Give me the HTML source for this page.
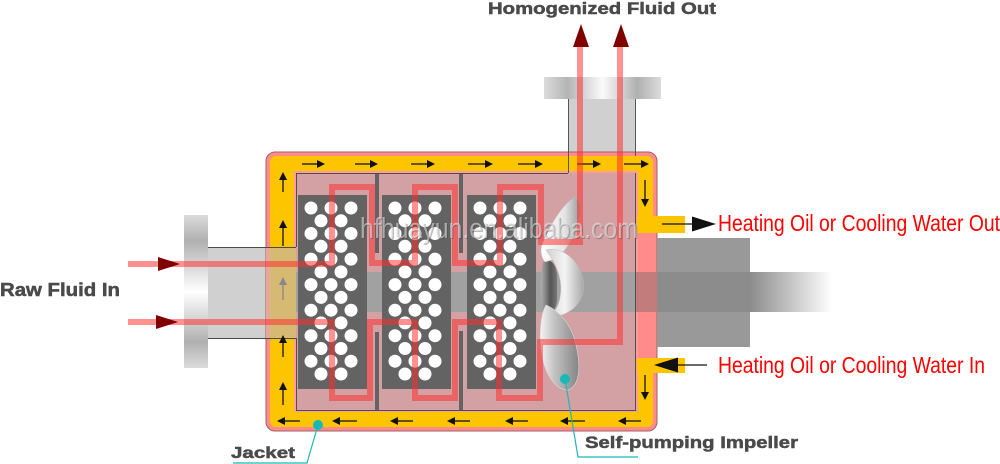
<!DOCTYPE html>
<html><head><meta charset="utf-8"><style>
html,body{margin:0;padding:0;background:#fff;}
svg{display:block;}
</style></head><body>
<svg width="1000" height="464" viewBox="0 0 1000 464" xmlns="http://www.w3.org/2000/svg">
<defs>
<linearGradient id="flV" x1="0" y1="0" x2="0" y2="1">
<stop offset="0" stop-color="#dcdcdc"/><stop offset="0.17" stop-color="#b0b0b0"/><stop offset="0.5" stop-color="#ffffff"/><stop offset="0.83" stop-color="#b0b0b0"/><stop offset="1" stop-color="#dcdcdc"/>
</linearGradient>
<linearGradient id="flH" x1="0" y1="0" x2="1" y2="0">
<stop offset="0" stop-color="#dcdcdc"/><stop offset="0.2" stop-color="#b4b4b4"/><stop offset="0.5" stop-color="#fafafa"/><stop offset="0.8" stop-color="#b0b0b0"/><stop offset="1" stop-color="#dcdcdc"/>
</linearGradient>
<linearGradient id="fade" x1="0" y1="0" x2="1" y2="0">
<stop offset="0" stop-color="#8c8c8c"/><stop offset="1" stop-color="#8c8c8c" stop-opacity="0"/>
</linearGradient>
<linearGradient id="bl1" x1="0" y1="0" x2="1" y2="0">
<stop offset="0" stop-color="#ffffff"/><stop offset="0.6" stop-color="#e4e4e4"/><stop offset="1" stop-color="#9a9a9a"/>
</linearGradient>
<linearGradient id="bl2" x1="0" y1="0" x2="1" y2="0">
<stop offset="0" stop-color="#f4f4f4"/><stop offset="0.35" stop-color="#c4c4c4"/><stop offset="1" stop-color="#858585"/>
</linearGradient>
<linearGradient id="tw" x1="0" y1="0" x2="1" y2="0">
<stop offset="0" stop-color="#cfcfcf"/><stop offset="0.5" stop-color="#f4f4f4"/><stop offset="1" stop-color="#a8a8a8"/>
</linearGradient>
<linearGradient id="hub" x1="0" y1="0" x2="1" y2="0">
<stop offset="0" stop-color="#b0b0b0"/><stop offset="0.6" stop-color="#555"/><stop offset="1" stop-color="#777"/>
</linearGradient>
</defs>

<!-- top outlet pipe -->
<rect x="568" y="99" width="68" height="74" fill="#d0d0d0"/>
<rect x="544" y="77" width="117" height="22" fill="url(#flH)"/>

<!-- left inlet pipe -->
<rect x="184" y="215" width="24" height="153" fill="url(#flV)"/>
<rect x="208" y="247" width="58" height="91" fill="#d0d0d0"/>

<!-- vessel -->
<rect x="266" y="152" width="391" height="279" rx="9" fill="#ff8b8b" stroke="#a06262" stroke-width="1"/>
<rect x="270" y="156" width="383" height="271" rx="6" fill="#fdc400"/>
<rect x="637" y="233" width="16" height="125" fill="#ff8b8b"/>
<rect x="294" y="171" width="344" height="241" fill="#ff9d9d"/>
<rect x="296" y="173" width="340" height="237" fill="#d3a1a3"/>

<!-- pipe through jacket -->
<rect x="266" y="247" width="4" height="91" fill="#e6a89a"/>
<rect x="270" y="247" width="26" height="91" fill="#d6b972"/>
<line x1="208" y1="247.5" x2="296" y2="247.5" stroke="#4a4a4a" stroke-width="1"/>
<line x1="208" y1="338.5" x2="296" y2="338.5" stroke="#4a4a4a" stroke-width="1"/>
<line x1="568.5" y1="99" x2="568.5" y2="173" stroke="#555" stroke-width="1"/>
<line x1="635.5" y1="99" x2="635.5" y2="156" stroke="#555" stroke-width="1"/>

<!-- shaft band -->
<rect x="296" y="272" width="340" height="40" fill="#a1a1a1"/>
<rect x="636" y="272" width="21" height="40" fill="#c27c7c"/>
<rect x="657" y="238" width="93" height="109" fill="#999999"/>
<rect x="657" y="272" width="93" height="40" fill="#8c8c8c"/>
<rect x="750" y="272" width="82" height="40" fill="url(#fade)"/>

<!-- chamber lines -->
<g stroke="#4f4f4f" stroke-width="1" fill="none">
<line x1="296.5" y1="173" x2="296.5" y2="247"/>
<line x1="296.5" y1="338" x2="296.5" y2="410"/>
<line x1="296" y1="173.5" x2="568" y2="173.5"/>
<line x1="296" y1="410.5" x2="636" y2="410.5"/>
<line x1="635.5" y1="173" x2="635.5" y2="411"/>
</g>

<!-- plates -->
<g fill="#636363">
<rect x="298" y="195" width="69" height="194"/>
<rect x="382" y="195" width="69" height="194"/>
<rect x="467" y="195" width="69" height="194"/>
<rect x="375" y="174" width="4" height="79"/>
<rect x="459" y="174" width="4" height="79"/>
<rect x="375" y="332" width="4" height="78"/>
<rect x="459" y="331" width="4" height="79"/>
</g>
<g fill="#ffffff">
<!-- plate 1 -->
<circle cx="311" cy="208" r="6.5"/><circle cx="331" cy="208" r="6.5"/><circle cx="351" cy="208" r="6.5"/>
<circle cx="321" cy="220.8" r="6.5"/><circle cx="341" cy="220.8" r="6.5"/>
<circle cx="311" cy="233.5" r="6.5"/><circle cx="331" cy="233.5" r="6.5"/><circle cx="351" cy="233.5" r="6.5"/>
<circle cx="321" cy="246.3" r="6.5"/><circle cx="341" cy="246.3" r="6.5"/>
<circle cx="311" cy="259.1" r="6.5"/><circle cx="331" cy="259.1" r="6.5"/><circle cx="351" cy="259.1" r="6.5"/>
<circle cx="321" cy="271.9" r="6.5"/><circle cx="341" cy="271.9" r="6.5"/>
<circle cx="311" cy="284.6" r="6.5"/><circle cx="331" cy="284.6" r="6.5"/><circle cx="351" cy="284.6" r="6.5"/>
<circle cx="321" cy="297.4" r="6.5"/><circle cx="341" cy="297.4" r="6.5"/>
<circle cx="311" cy="310.2" r="6.5"/><circle cx="331" cy="310.2" r="6.5"/><circle cx="351" cy="310.2" r="6.5"/>
<circle cx="321" cy="322.9" r="6.5"/><circle cx="341" cy="322.9" r="6.5"/>
<circle cx="311" cy="335.7" r="6.5"/><circle cx="331" cy="335.7" r="6.5"/><circle cx="351" cy="335.7" r="6.5"/>
<circle cx="321" cy="348.5" r="6.5"/><circle cx="341" cy="348.5" r="6.5"/>
<circle cx="311" cy="361.2" r="6.5"/><circle cx="331" cy="361.2" r="6.5"/><circle cx="351" cy="361.2" r="6.5"/>
<circle cx="321" cy="374" r="6.5"/><circle cx="341" cy="374" r="6.5"/>
<!-- plate 2 -->
<circle cx="395" cy="208" r="6.5"/><circle cx="415" cy="208" r="6.5"/><circle cx="435" cy="208" r="6.5"/>
<circle cx="405" cy="220.8" r="6.5"/><circle cx="425" cy="220.8" r="6.5"/>
<circle cx="395" cy="233.5" r="6.5"/><circle cx="415" cy="233.5" r="6.5"/><circle cx="435" cy="233.5" r="6.5"/>
<circle cx="405" cy="246.3" r="6.5"/><circle cx="425" cy="246.3" r="6.5"/>
<circle cx="395" cy="259.1" r="6.5"/><circle cx="415" cy="259.1" r="6.5"/><circle cx="435" cy="259.1" r="6.5"/>
<circle cx="405" cy="271.9" r="6.5"/><circle cx="425" cy="271.9" r="6.5"/>
<circle cx="395" cy="284.6" r="6.5"/><circle cx="415" cy="284.6" r="6.5"/><circle cx="435" cy="284.6" r="6.5"/>
<circle cx="405" cy="297.4" r="6.5"/><circle cx="425" cy="297.4" r="6.5"/>
<circle cx="395" cy="310.2" r="6.5"/><circle cx="415" cy="310.2" r="6.5"/><circle cx="435" cy="310.2" r="6.5"/>
<circle cx="405" cy="322.9" r="6.5"/><circle cx="425" cy="322.9" r="6.5"/>
<circle cx="395" cy="335.7" r="6.5"/><circle cx="415" cy="335.7" r="6.5"/><circle cx="435" cy="335.7" r="6.5"/>
<circle cx="405" cy="348.5" r="6.5"/><circle cx="425" cy="348.5" r="6.5"/>
<circle cx="395" cy="361.2" r="6.5"/><circle cx="415" cy="361.2" r="6.5"/><circle cx="435" cy="361.2" r="6.5"/>
<circle cx="405" cy="374" r="6.5"/><circle cx="425" cy="374" r="6.5"/>
<!-- plate 3 -->
<circle cx="480" cy="208" r="6.5"/><circle cx="500" cy="208" r="6.5"/><circle cx="520" cy="208" r="6.5"/>
<circle cx="490" cy="220.8" r="6.5"/><circle cx="510" cy="220.8" r="6.5"/>
<circle cx="480" cy="233.5" r="6.5"/><circle cx="500" cy="233.5" r="6.5"/><circle cx="520" cy="233.5" r="6.5"/>
<circle cx="490" cy="246.3" r="6.5"/><circle cx="510" cy="246.3" r="6.5"/>
<circle cx="480" cy="259.1" r="6.5"/><circle cx="500" cy="259.1" r="6.5"/><circle cx="520" cy="259.1" r="6.5"/>
<circle cx="490" cy="271.9" r="6.5"/><circle cx="510" cy="271.9" r="6.5"/>
<circle cx="480" cy="284.6" r="6.5"/><circle cx="500" cy="284.6" r="6.5"/><circle cx="520" cy="284.6" r="6.5"/>
<circle cx="490" cy="297.4" r="6.5"/><circle cx="510" cy="297.4" r="6.5"/>
<circle cx="480" cy="310.2" r="6.5"/><circle cx="500" cy="310.2" r="6.5"/><circle cx="520" cy="310.2" r="6.5"/>
<circle cx="490" cy="322.9" r="6.5"/><circle cx="510" cy="322.9" r="6.5"/>
<circle cx="480" cy="335.7" r="6.5"/><circle cx="500" cy="335.7" r="6.5"/><circle cx="520" cy="335.7" r="6.5"/>
<circle cx="490" cy="348.5" r="6.5"/><circle cx="510" cy="348.5" r="6.5"/>
<circle cx="480" cy="361.2" r="6.5"/><circle cx="500" cy="361.2" r="6.5"/><circle cx="520" cy="361.2" r="6.5"/>
<circle cx="490" cy="374" r="6.5"/><circle cx="510" cy="374" r="6.5"/>
</g>

<!-- impeller -->
<path d="M543,262 C549,258 556,262 557,275 L557,300 C556,312 549,316 543,310 C540,296 540,276 543,262 Z" fill="url(#hub)"/>
<path d="M575,197 C582,199 581,212 578,224 C574,238 566,250 558,258 L545,262 C540,256 540,248 543,242 C550,226 562,204 575,197 Z" fill="url(#bl1)" stroke="#bbb" stroke-width="0.5"/>
<path d="M546,250 C562,246 579,260 583,279 C586,296 578,309 562,315 L552,314 C560,306 562,292 560,280 C558,268 552,258 546,250 Z" fill="url(#tw)" stroke="#bbb" stroke-width="0.5"/>
<path d="M546,305 C560,311 572,326 576,345 C581,366 580,386 568,390 C556,390 546,376 542,356 C539,337 540,316 546,305 Z" fill="url(#bl2)" stroke="#ddd" stroke-width="0.6"/>

<!-- nozzles -->
<rect x="637" y="216" width="48" height="17" fill="#fdc400"/>
<rect x="637" y="358" width="48" height="15" fill="#fdc400"/>

<!-- jacket arrows -->
<g stroke="#111" stroke-width="1.3" fill="none">
<line x1="302" y1="164" x2="318" y2="164"/><line x1="355" y1="164" x2="371" y2="164"/><line x1="411" y1="164" x2="428" y2="164"/><line x1="468" y1="164" x2="486" y2="164"/><line x1="518" y1="164" x2="536" y2="164"/><line x1="577" y1="164" x2="594" y2="164"/><line x1="624" y1="164" x2="642" y2="164"/>
<line x1="645" y1="180" x2="645" y2="200"/><line x1="645" y1="375" x2="645" y2="393"/>
<line x1="284" y1="421" x2="300" y2="421"/><line x1="339" y1="421" x2="357" y2="421"/><line x1="397" y1="421" x2="413" y2="421"/><line x1="454" y1="421" x2="470" y2="421"/><line x1="512" y1="421" x2="528" y2="421"/><line x1="567" y1="421" x2="585" y2="421"/><line x1="625" y1="421" x2="641" y2="421"/>
<line x1="283" y1="179" x2="283" y2="192"/><line x1="283" y1="227" x2="283" y2="246"/><line x1="283" y1="342" x2="283" y2="357"/><line x1="283" y1="389" x2="283" y2="405"/>
</g>
<line x1="283" y1="284" x2="283" y2="300" stroke="#888" stroke-width="1.3"/>
<g fill="#111">
<polygon points="325,164 317,160 317,168"/><polygon points="378,164 370,160 370,168"/><polygon points="435,164 427,160 427,168"/><polygon points="493,164 485,160 485,168"/><polygon points="543,164 535,160 535,168"/><polygon points="601,164 593,160 593,168"/><polygon points="649,164 641,160 641,168"/>
<polygon points="645,207 641,199 649,199"/><polygon points="645,400 641,392 649,392"/>
<polygon points="277,421 285,417 285,425"/><polygon points="332,421 340,417 340,425"/><polygon points="390,421 398,417 398,425"/><polygon points="447,421 455,417 455,425"/><polygon points="505,421 513,417 513,425"/><polygon points="560,421 568,417 568,425"/><polygon points="618,421 626,417 626,425"/>
<polygon points="283,172 279,180 287,180"/><polygon points="283,220 279,228 287,228"/><polygon points="283,335 279,343 287,343"/><polygon points="283,382 279,390 287,390"/>
</g>
<polygon points="283,277 279,285 287,285" fill="#888"/>

<!-- fluid red lines -->
<g stroke="rgba(255,45,45,0.52)" stroke-width="6" fill="none" stroke-linejoin="miter" stroke-linecap="butt">
<path d="M128,264 H332 V187 H372 V263 H415 V187 H455 V263 H500 V187 H541 V242 H580 V45"/>
<path d="M128,322 H332 V398 H370 V322 H415 V398 H455 V322 H499 V398 H540 V342 H620 V45"/>
</g>
<g fill="#800000">
<polygon points="180,264 158,257 158,271"/>
<polygon points="178,322 156,315 156,329"/>
<polygon points="581,24 573,47 589,47"/>
<polygon points="621,24 613,47 629,47"/>
</g>

<!-- heating oil arrows -->
<line x1="662" y1="224" x2="694" y2="224" stroke="#111" stroke-width="1.3"/>
<polygon points="716,224 692,216.5 692,231.5" fill="#111"/>
<line x1="676" y1="365" x2="707" y2="365" stroke="#111" stroke-width="1.3"/>
<polygon points="654,365 678,357.5 678,372.5" fill="#111"/>

<!-- callouts -->
<polyline points="318,425 307,463 233,463" fill="none" stroke="#1cb8b8" stroke-width="1.2"/>
<circle cx="318" cy="425" r="5" fill="#18b8b8"/>
<polyline points="565,379 578,457 638,457" fill="none" stroke="#1cb8b8" stroke-width="1.2"/>
<circle cx="565" cy="379" r="5" fill="#18b8b8"/>

<!-- labels -->
<g font-family="'Liberation Sans', Arial, sans-serif" font-weight="bold" fill="#4a4a4a" stroke="#4a4a4a" stroke-width="0.5">
<text x="488" y="14" font-size="17" textLength="228" lengthAdjust="spacingAndGlyphs">Homogenized Fluid Out</text>
<text x="0" y="296" font-size="18" textLength="120" lengthAdjust="spacingAndGlyphs">Raw Fluid In</text>
<text x="231" y="458" font-size="16" textLength="64" lengthAdjust="spacingAndGlyphs">Jacket</text>
<text x="585" y="448" font-size="16.5" textLength="213" lengthAdjust="spacingAndGlyphs">Self-pumping Impeller</text>
</g>
<g font-family="'Liberation Sans Narrow', 'Liberation Sans', Arial, sans-serif" fill="#ff0000" font-size="23">
<text x="718" y="231" textLength="282" lengthAdjust="spacingAndGlyphs">Heating Oil or Cooling Water Out</text>
<text x="718" y="373" textLength="267" lengthAdjust="spacingAndGlyphs">Heating Oil or Cooling Water In</text>
</g>

<!-- watermark -->
<g font-family="'Liberation Sans', Arial, sans-serif" font-size="29">
<text x="361" y="239" textLength="278" lengthAdjust="spacingAndGlyphs" fill="rgba(60,60,60,0.35)">hfhuayun.en.alibaba.com</text>
<text x="360" y="238" textLength="278" lengthAdjust="spacingAndGlyphs" fill="rgba(235,235,235,0.55)">hfhuayun.en.alibaba.com</text>
</g>
</svg>
</body></html>
